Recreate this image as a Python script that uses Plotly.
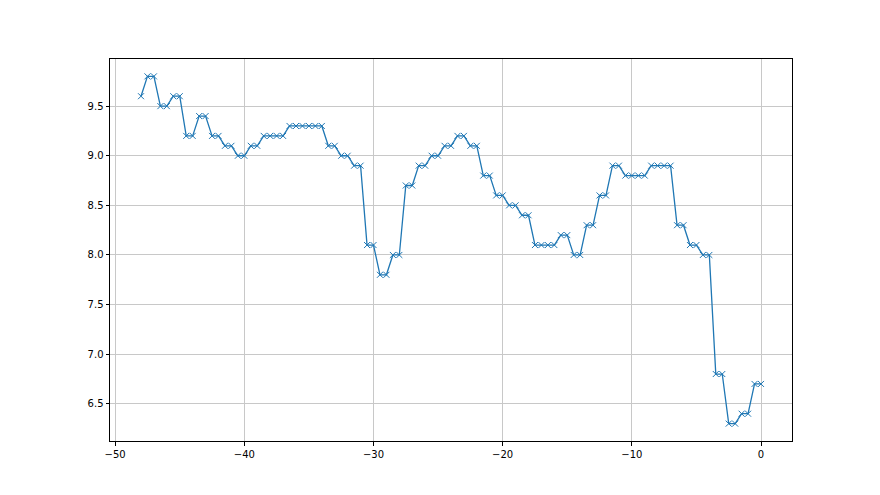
import numpy as np
import plotly.graph_objects as go

# Values (first point at -48, then pairs for each half-unit step)
first_x = -48.0
first_y = 9.6
pair_values = [9.8, 9.5, 9.6, 9.2, 9.4, 9.2, 9.1, 9.0, 9.1, 9.2, 9.2, 9.3, 9.3, 9.3,
               9.1, 9.0, 8.9, 8.1, 7.8, 8.0, 8.7, 8.9, 9.0, 9.1, 9.2, 9.1, 8.8, 8.6,
               8.5, 8.4, 8.1, 8.1, 8.2, 8.0, 8.3, 8.6, 8.9, 8.8, 8.8, 8.9, 8.9, 8.3,
               8.1, 8.0, 6.8, 6.3, 6.4, 6.7]

x_vals = [first_x] + [first_x + 0.5 * (i + 1) for i in range(2 * len(pair_values))]
y_vals = [first_y] + [v for v in pair_values for _ in range(2)]

xticks = [-50, -40, -30, -20, -10, 0]
yticks = [6.5, 7.0, 7.5, 8.0, 8.5, 9.0, 9.5]

fig = go.Figure()
fig.add_trace(go.Scatter(
    x=x_vals, y=y_vals, mode="lines+markers",
    line=dict(color="#1f77b4", width=1.3),
    marker=dict(symbol="x-thin", size=6, color="#1f77b4",
                line=dict(width=1, color="#1f77b4")),
    showlegend=False,
))

axis_common = dict(
    showgrid=True, gridcolor="#c8c8c8", gridwidth=0.8,
    showline=True, linecolor="black", linewidth=1, mirror=True,
    ticks="outside", ticklen=3.5, tickcolor="black",
    tickfont=dict(family="DejaVu Sans", size=10, color="black"),
    zeroline=False,
)

fig.update_layout(
    width=872, height=487,
    margin=dict(l=102, r=88, t=51, b=54),
    paper_bgcolor="white", plot_bgcolor="white",
    xaxis=dict(range=[-50.4, 2.4], tickvals=xticks, **axis_common),
    yaxis=dict(range=[6.125, 9.975], tickvals=yticks, tickformat=".1f", **axis_common),
)

fig.write_html("out.html")
